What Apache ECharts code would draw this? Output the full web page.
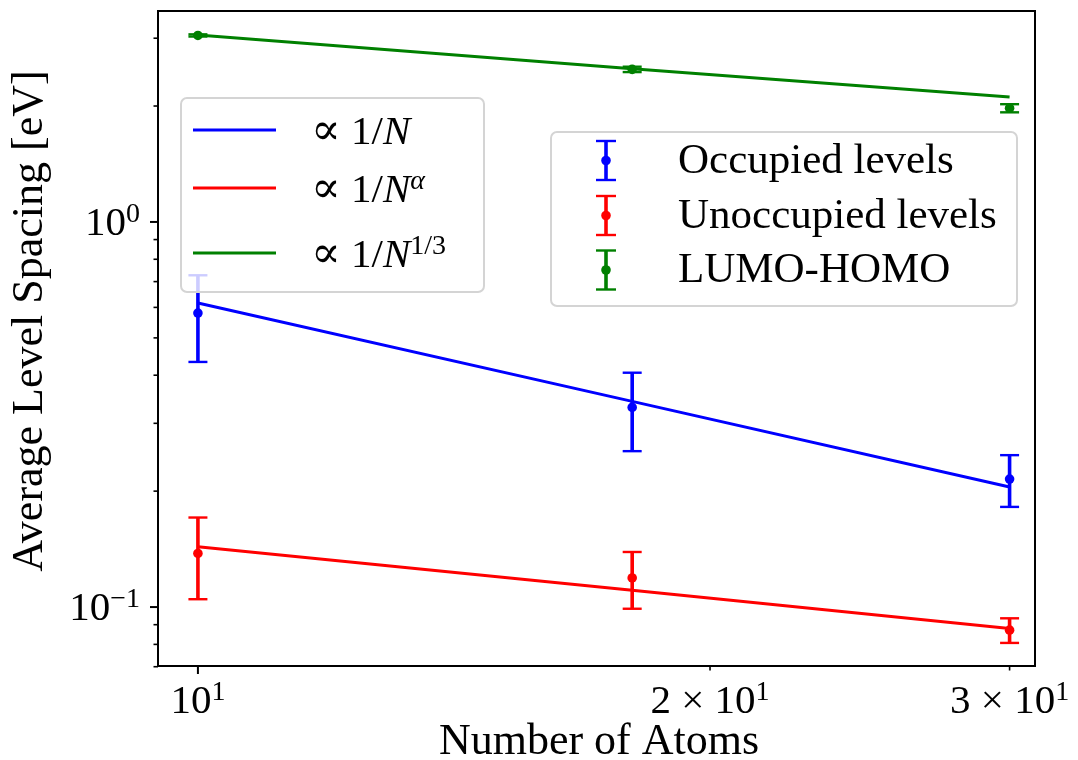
<!DOCTYPE html>
<html><head><meta charset="utf-8">
<script src="https://cdn.jsdelivr.net/npm/echarts@6/dist/echarts.min.js"></script>
<style>html,body{margin:0;padding:0;background:#fff}#chart{width:1078px;height:760px}</style>
</head><body><div id="chart"></div>
<script>
// ---- data ----
const atoms = [10, 18, 30];
const occupied = [0.580, 0.330, 0.215];
const occupiedErr = [0.147, 0.076, 0.033];
const unoccupied = [0.1378, 0.119, 0.0871];
const unoccupiedErr = [0.033, 0.020, 0.0064];
const lumoHomo = [3.05, 2.49, 1.974];
const lumoHomoErr = [0.02, 0.04, 0.048];
const fitInvN = [0.616, 0.342, 0.205];
const fitInvNAlpha = [0.1435, 0.1105, 0.088];
const fitInvNThird = [3.06, 2.50, 2.11];

const seriesNames = ['Occupied levels', 'Unoccupied levels', 'LUMO-HOMO'];
const fitNames = ['\u221d 1/N', '\u221d 1/N^\u03b1', '\u221d 1/N^(1/3)'];
const fitLabelsRich = ['{p|\u221d}{m| 1/}{i|N}', '{p|\u221d}{m| 1/}{i|N}{si|\u03b1}', '{p|\u221d}{m| 1/}{i|N}{s|1/3}'];
const colors = ['#0000ff', '#ff0000', '#008000'];

const xTicks = [10, 20, 30];
const xTickLabels = ['{m|10}{s|1}', '{m|2 \u00d7 10}{s|1}', '{m|3 \u00d7 10}{s|1}'];
const xTickMajor = [true, false, false];
const yMajorTicks = [0.1, 1];
const yMajorLabels = ['{m|10}{s|\u22121}', '{m|10}{s|0}'];
const yMinorTicks = [0.07, 0.08, 0.09, 0.2, 0.3, 0.4, 0.5, 0.6, 0.7, 0.8, 0.9, 2, 3];

const xTitle = 'Number of Atoms';
const yTitle = 'Average Level Spacing [eV]';

// ---- axis ranges ----
const X_MIN = 9.474, X_MAX = 31.05, Y_MIN = 0.0703, Y_MAX = 3.53;

const FONT = '"Liberation Serif", "DejaVu Serif", serif';
const rich = {
  m: {fontSize: 41, fontFamily: FONT, lineHeight: 44, verticalAlign: 'bottom', fill: '#000', color: '#000'},
  p: {fontSize: 44, fontFamily: FONT, lineHeight: 44, verticalAlign: 'bottom', fill: '#000', color: '#000'},
  i: {fontSize: 41, fontFamily: FONT, fontStyle: 'italic', lineHeight: 44, verticalAlign: 'bottom', fill: '#000', color: '#000'},
  s: {fontSize: 28, fontFamily: FONT, lineHeight: 26, verticalAlign: 'top', fill: '#000', color: '#000'},
  si: {fontSize: 28, fontFamily: FONT, fontStyle: 'italic', lineHeight: 26, verticalAlign: 'top', fill: '#000', color: '#000'}
};

function errorBarSeries(name, color, means, errs) {
  return {
    name: name, type: 'custom', coordinateSystem: 'cartesian2d', silent: true, z: 3,
    data: atoms.map((n, i) => [n, means[i], means[i] - errs[i], means[i] + errs[i]]),
    encode: {x: 0, y: [1, 2, 3]},
    renderItem: function (params, api) {
      const x = api.value(0);
      const c = api.coord([x, api.value(1)]);
      const lo = api.coord([x, api.value(2)]);
      const hi = api.coord([x, api.value(3)]);
      const hw = 9.5;
      return {type: 'group', children: [
        {type: 'line', shape: {x1: lo[0], y1: lo[1], x2: hi[0], y2: hi[1]}, style: {stroke: color, lineWidth: 3.6}},
        {type: 'line', shape: {x1: lo[0] - hw, y1: lo[1], x2: lo[0] + hw, y2: lo[1]}, style: {stroke: color, lineWidth: 2.4}},
        {type: 'line', shape: {x1: hi[0] - hw, y1: hi[1], x2: hi[0] + hw, y2: hi[1]}, style: {stroke: color, lineWidth: 2.4}},
        {type: 'circle', shape: {cx: c[0], cy: c[1], r: 4.8}, style: {fill: color}}
      ]};
    }
  };
}

function fitSeries(name, color, vals) {
  return {
    name: name, type: 'line', silent: true, z: 4, symbol: 'none',
    data: atoms.map((n, i) => [n, vals[i]]),
    lineStyle: {color: color, width: 3}
  };
}

const xTickSeries = {
  type: 'custom', coordinateSystem: 'cartesian2d', silent: true, clip: false, z: 5,
  data: xTicks.map(v => [v, Y_MIN]),
  renderItem: function (params, api) {
    const p = api.coord([api.value(0), api.value(1)]);
    const major = xTickMajor[params.dataIndex];
    return {type: 'group', children: [
      {type: 'line', shape: {x1: p[0], y1: p[1], x2: p[0], y2: p[1] + (major ? 8 : 4.5)}, style: {stroke: '#000', lineWidth: major ? 2 : 1.6}},
      {type: 'text', x: p[0], y: p[1] + 13, style: {text: xTickLabels[params.dataIndex], rich: rich, align: 'center', verticalAlign: 'top', fill: '#000'}}
    ]};
  }
};

const yMajorSeries = {
  type: 'custom', coordinateSystem: 'cartesian2d', silent: true, clip: false, z: 5,
  data: yMajorTicks.map(v => [X_MIN, v]),
  renderItem: function (params, api) {
    const p = api.coord([api.value(0), api.value(1)]);
    return {type: 'group', children: [
      {type: 'line', shape: {x1: p[0] - 8, y1: p[1], x2: p[0], y2: p[1]}, style: {stroke: '#000', lineWidth: 2}},
      {type: 'text', x: p[0] - 18, y: p[1] + 1, style: {text: yMajorLabels[params.dataIndex], rich: rich, align: 'right', verticalAlign: 'middle', fill: '#000'}}
    ]};
  }
};

const yMinorSeries = {
  type: 'custom', coordinateSystem: 'cartesian2d', silent: true, clip: false, z: 5,
  data: yMinorTicks.map(v => [X_MIN, v]),
  renderItem: function (params, api) {
    const p = api.coord([api.value(0), api.value(1)]);
    return {type: 'line', shape: {x1: p[0] - 4.5, y1: p[1], x2: p[0], y2: p[1]}, style: {stroke: '#000', lineWidth: 1.6}};
  }
};

// ---- legends (drawn as graphics) ----
const graphics = [];
// legend 1 : fit lines
const L1 = {x: 181, y: 98, w: 303, h: 194, rows: [130, 188, 253], lineX1: 193, lineX2: 276, textX: 311};
graphics.push({type: 'rect', z: 100, shape: {x: L1.x, y: L1.y, width: L1.w, height: L1.h, r: 6},
  style: {fill: 'rgba(255,255,255,0.8)', stroke: '#d4d4d4', lineWidth: 2}});
fitNames.forEach((nm, i) => {
  const y = L1.rows[i];
  graphics.push({type: 'line', z: 101, shape: {x1: L1.lineX1, y1: y, x2: L1.lineX2, y2: y}, style: {stroke: colors[i], lineWidth: 3}});
  graphics.push({type: 'text', z: 101, x: L1.textX, y: y + 2, style: {text: fitLabelsRich[i], rich: rich, align: 'left', verticalAlign: 'middle', fill: '#000'}});
});
// legend 2 : error bar series
const L2 = {x: 551, y: 132, w: 466, h: 174, rows: [160.5, 215.5, 270], iconX: 606, textX: 678};
graphics.push({type: 'rect', z: 100, shape: {x: L2.x, y: L2.y, width: L2.w, height: L2.h, r: 6},
  style: {fill: 'rgba(255,255,255,0.8)', stroke: '#d4d4d4', lineWidth: 2}});
seriesNames.forEach((nm, i) => {
  const y = L2.rows[i], x = L2.iconX, hh = 19.5, hw = 10;
  graphics.push({type: 'line', z: 101, shape: {x1: x, y1: y - hh, x2: x, y2: y + hh}, style: {stroke: colors[i], lineWidth: 3.6}});
  graphics.push({type: 'line', z: 101, shape: {x1: x - hw, y1: y - hh, x2: x + hw, y2: y - hh}, style: {stroke: colors[i], lineWidth: 2.4}});
  graphics.push({type: 'line', z: 101, shape: {x1: x - hw, y1: y + hh, x2: x + hw, y2: y + hh}, style: {stroke: colors[i], lineWidth: 2.4}});
  graphics.push({type: 'circle', z: 101, shape: {cx: x, cy: y, r: 4.8}, style: {fill: colors[i]}});
  graphics.push({type: 'text', z: 101, x: L2.textX, y: y + 1, style: {text: nm, fontSize: 43, fontFamily: FONT, align: 'left', verticalAlign: 'middle', fill: '#000'}});
});
// axis titles
graphics.push({type: 'text', z: 101, x: 599, y: 742, style: {text: xTitle, fontSize: 44, fontFamily: FONT, align: 'center', verticalAlign: 'middle', fill: '#000'}});
graphics.push({type: 'text', z: 101, x: 30, y: 321, rotation: Math.PI / 2, style: {text: yTitle, fontSize: 44, fontFamily: FONT, align: 'center', verticalAlign: 'middle', fill: '#000'}});

const chart = echarts.init(document.getElementById('chart'), null, {renderer: 'canvas'});
chart.setOption({
  animation: false,
  backgroundColor: '#ffffff',
  grid: {left: 158, top: 11, right: 43, bottom: 94, show: true, borderColor: '#000', borderWidth: 2, backgroundColor: 'transparent', containLabel: false},
  xAxis: {type: 'log', logBase: 10, min: X_MIN, max: X_MAX,
    axisLine: {show: false}, axisTick: {show: false}, axisLabel: {show: false}, splitLine: {show: false}},
  yAxis: {type: 'log', logBase: 10, min: Y_MIN, max: Y_MAX,
    axisLine: {show: false}, axisTick: {show: false}, axisLabel: {show: false}, splitLine: {show: false}},
  series: [
    errorBarSeries(seriesNames[0], colors[0], occupied, occupiedErr),
    errorBarSeries(seriesNames[1], colors[1], unoccupied, unoccupiedErr),
    errorBarSeries(seriesNames[2], colors[2], lumoHomo, lumoHomoErr),
    fitSeries(fitNames[0], colors[0], fitInvN),
    fitSeries(fitNames[1], colors[1], fitInvNAlpha),
    fitSeries(fitNames[2], colors[2], fitInvNThird),
    xTickSeries, yMajorSeries, yMinorSeries
  ],
  graphic: graphics
});
</script>
</body></html>
